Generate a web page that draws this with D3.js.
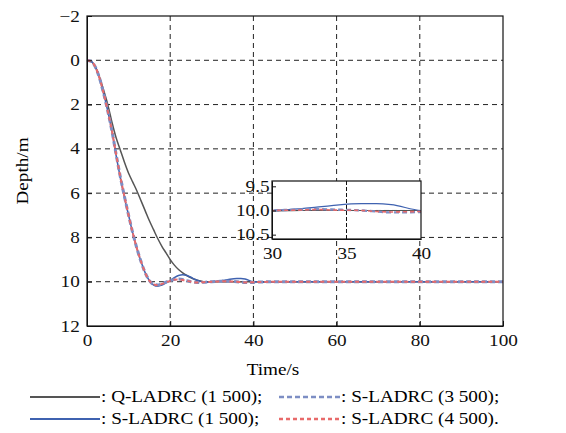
<!DOCTYPE html>
<html>
<head>
<meta charset="utf-8">
<script src="https://cdn.jsdelivr.net/npm/d3@7"></script>
<style>
  body { margin: 0; background: #fff; }
</style>
</head>
<body>
<script>
// time samples (s)
var time = [0,1,2,3,4,5,6,7,8,9,10,11,12,13,14,15,16,17,18,19,20,21,22,23,24,25,26,27,28,29,30,32,33,34,36,37,38,40,42,45,50,60,70,80,90,100];

// depth (m) for each controller
var qLadrc1500 = [0,0.05,0.3,0.75,1.35,2.0,2.8,3.5,4.05,4.6,5.1,5.5,5.9,6.35,6.8,7.25,7.65,8.05,8.4,8.7,9.0,9.25,9.45,9.6,9.72,9.82,9.9,9.96,10.0,10.01,10.01,10.0,10.0,10.0,10.0,10.0,10.0,10.0,10.0,10.0,10.0,10.0,10.0,10.0,10.0,10.0];
var sLadrc1500 = [0,0.05,0.3,0.8,1.5,2.3,3.2,4.3,5.3,6.2,7.0,7.8,8.5,9.1,9.6,9.95,10.15,10.2,10.15,10.05,9.95,9.82,9.72,9.68,9.72,9.8,9.9,9.97,10.02,10.02,10.0,9.96,9.93,9.9,9.86,9.86,9.88,10.0,10.02,10.01,10.0,10.0,10.0,10.0,10.0,10.0];
var sLadrc3500 = [0,0.05,0.3,0.8,1.5,2.3,3.2,4.25,5.25,6.15,7.0,7.8,8.5,9.1,9.6,9.95,10.12,10.15,10.1,10.02,9.95,9.9,9.88,9.9,9.95,10.0,10.03,10.04,10.03,10.01,10.0,9.98,9.97,9.98,10.0,10.02,10.04,10.03,10.01,10.0,10.0,10.0,10.0,10.0,10.0,10.0];
var sLadrc4500 = [0,0.05,0.3,0.8,1.5,2.3,3.2,4.25,5.25,6.15,7.0,7.8,8.5,9.1,9.6,9.95,10.12,10.16,10.1,10.03,9.96,9.91,9.9,9.92,9.96,10.0,10.03,10.03,10.02,10.01,10.0,9.99,9.98,9.99,10.0,10.02,10.03,10.02,10.01,10.0,10.0,10.0,10.0,10.0,10.0,10.0];

var xTicks = [0,20,40,60,80,100];
var yTicks = [-2,0,2,4,6,8,10,12];
var insetXTicks = [30,35,40];
var insetYTicks = [9.5,10.0,10.5];

var series = [
  {name: ": Q-LADRC (1 500);", values: qLadrc1500, color: "#555555", width: 1.5, dash: null},
  {name: ": S-LADRC (1 500);", values: sLadrc1500, color: "#3f62b0", width: 1.5, dash: null},
  {name: ": S-LADRC (3 500);", values: sLadrc3500, color: "#7d8ec4", width: 3, dash: "5,3"},
  {name: ": S-LADRC (4 500).", values: sLadrc4500, color: "#e86a6a", width: 2, dash: "4,3"}
];

// the source text looks stretched sideways, so widen glyphs a bit
var font = "'Liberation Serif', 'Times New Roman', serif";
var stretch = "scale(1.2,1)";
var width = 566, height = 433;
var svg = d3.select("body").append("svg").attr("width", width).attr("height", height)
  .style("font-family", font);

var x = d3.scaleLinear().domain([0, 100]).range([87, 503]);
var y = d3.scaleLinear().domain([-2, 12]).range([16, 326]);

// grid
var grid = svg.append("g");
grid.selectAll(".gx").data(xTicks.slice(1, -1)).enter().append("line")
  .attr("x1", d => x(d)).attr("x2", d => x(d)).attr("y1", y(-2)).attr("y2", y(12))
  .attr("stroke", "#222").attr("stroke-dasharray", "5,4").attr("stroke-width", 1);
grid.selectAll(".gy").data(yTicks.slice(1, -1)).enter().append("line")
  .attr("x1", x(0)).attr("x2", x(100)).attr("y1", d => y(d)).attr("y2", d => y(d))
  .attr("stroke", "#222").attr("stroke-dasharray", "5,4").attr("stroke-width", 1);

// curves
var line = d3.line().x((d, i) => x(time[i])).y(d => y(d)).curve(d3.curveMonotoneX);
series.forEach(function(s) {
  svg.append("path").attr("d", line(s.values))
    .attr("fill", "none").attr("stroke", s.color).attr("stroke-width", s.width)
    .attr("stroke-dasharray", s.dash);
});

function styleAxis(g) {
  g.attr("font-family", null);
  g.selectAll("text").style("font-size", "16px").style("font-family", font).attr("fill", "#111")
    .attr("transform", stretch);
  g.selectAll("line,path").attr("stroke", "#111");
}

// axes
var xAxis = d3.axisBottom(x).tickValues(xTicks).tickSizeInner(-5).tickSizeOuter(0).tickPadding(9);
var yAxis = d3.axisLeft(y).tickValues(yTicks).tickSizeInner(-5).tickSizeOuter(0).tickPadding(6)
  .tickFormat(d => d < 0 ? "\u2212" + Math.abs(d) : d);
styleAxis(svg.append("g").attr("transform", "translate(0," + y(12) + ")").call(xAxis));
styleAxis(svg.append("g").attr("transform", "translate(" + x(0) + ",0)").call(yAxis));
svg.append("rect").attr("x", x(0)).attr("y", y(-2)).attr("width", x(100) - x(0)).attr("height", y(12) - y(-2))
  .attr("fill", "none").attr("stroke", "#111").attr("stroke-width", 1.2);

svg.append("text").attr("transform", "translate(273,375) " + stretch).attr("text-anchor", "middle")
  .style("font-size", "16px").text("Time/s");
svg.append("text").attr("transform", "translate(28,171) rotate(-90) " + stretch).attr("text-anchor", "middle")
  .style("font-size", "16px").text("Depth/m");

// inset
var ix = d3.scaleLinear().domain([30, 40]).range([272, 421]);
var iy = d3.scaleLinear().domain([9.39, 10.59]).range([181, 239]);
var inset = svg.append("g");
inset.append("rect").attr("x", 272).attr("y", 181).attr("width", 149).attr("height", 58).attr("fill", "#fff");
inset.append("line").attr("x1", ix(35)).attr("x2", ix(35)).attr("y1", iy(9.39)).attr("y2", iy(10.59))
  .attr("stroke", "#111").attr("stroke-dasharray", "4,2");
inset.append("line").attr("x1", ix(30)).attr("x2", ix(40)).attr("y1", iy(10)).attr("y2", iy(10))
  .attr("stroke", "#111").attr("stroke-dasharray", "5,3");
inset.append("clipPath").attr("id", "iclip").append("rect").attr("x", 272).attr("y", 181).attr("width", 149).attr("height", 58);
var iline = d3.line().defined((d, i) => time[i] >= 28 && time[i] <= 42)
  .x((d, i) => ix(time[i])).y(d => iy(d)).curve(d3.curveMonotoneX);
series.forEach(function(s) {
  inset.append("path").attr("d", iline(s.values)).attr("clip-path", "url(#iclip)")
    .attr("fill", "none").attr("stroke", s.color).attr("stroke-width", s.width * 0.8)
    .attr("stroke-dasharray", s.dash);
});
var ixAxis = d3.axisBottom(ix).tickValues(insetXTicks).tickSize(0).tickPadding(9);
var iyAxis = d3.axisLeft(iy).tickValues(insetYTicks).tickSizeInner(-4).tickSizeOuter(0).tickPadding(2)
  .tickFormat(d3.format(".1f"));
styleAxis(inset.append("g").attr("transform", "translate(0,239)").call(ixAxis));
styleAxis(inset.append("g").attr("transform", "translate(272,0)").call(iyAxis));
inset.append("rect").attr("x", 272).attr("y", 181).attr("width", 149).attr("height", 58)
  .attr("fill", "none").attr("stroke", "#111").attr("stroke-width", 1.2);

// legend
var legendPos = [
  {x1: 30, x2: 100, y: 397},
  {x1: 30, x2: 100, y: 419},
  {x1: 279, x2: 340, y: 397},
  {x1: 279, x2: 340, y: 419}
];
var lg = svg.append("g");
series.forEach(function(s, i) {
  var p = legendPos[i];
  lg.append("line").attr("x1", p.x1).attr("x2", p.x2).attr("y1", p.y).attr("y2", p.y)
    .attr("stroke", s.color).attr("stroke-width", s.dash ? 2.5 : 2).attr("stroke-dasharray", s.dash);
  lg.append("text").attr("transform", "translate(" + (p.x2 + 1) + "," + (p.y + 5) + ") " + stretch)
    .style("font-size", "16px").text(s.name);
});
</script>
</body>
</html>
